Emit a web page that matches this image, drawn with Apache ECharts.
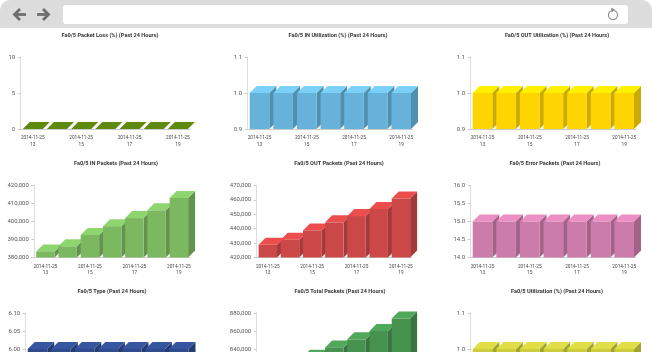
<!DOCTYPE html>
<html>
<head>
<meta charset="utf-8">
<script src="https://cdn.jsdelivr.net/npm/echarts@6/dist/echarts.min.js"></script>
<style>
html,body{margin:0;padding:0;background:#fff;overflow:hidden}
#container{width:652px;height:352px;filter:blur(0.3px)}
</style>
</head>
<body>
<div id="container"></div>
<script>
var categories = ['2014-11-25\n13','2014-11-25\n14','2014-11-25\n15','2014-11-25\n16','2014-11-25\n17','2014-11-25\n18','2014-11-25\n19'];

var titles = [
    'Fa0/5 Packet Loss (%) (Past 24 Hours)','Fa0/5 IN Utilization (%) (Past 24 Hours)','Fa0/5 OUT Utilization (%) (Past 24 Hours)',
    'Fa0/5 IN Packets (Past 24 Hours)','Fa0/5 OUT Packets (Past 24 Hours)','Fa0/5 Error Packets (Past 24 Hours)',
    'Fa0/5 Type (Past 24 Hours)','Fa0/5 Total Packets (Past 24 Hours)','Fa0/5 Utilization (%) (Past 24 Hours)'
];

var packetLoss = [0,0,0,0,0,0,0];
var inUtil = [1,1,1,1,1,1,1];
var outUtil = [1,1,1,1,1,1,1];
var inPackets = [383400,386200,392500,397400,401900,406200,413100];
var outPackets = [428800,432300,438800,444400,448800,453700,460900];
var errorPackets = [15,15,15,15,15,15,15];
var typeValues = [6,6,6,6,6,6,6];
var totalPackets = [812200,818500,831300,841800,850700,859900,874000];
var utilValues = [1,1,1,1,1,1,1];
var allSeries = [packetLoss,inUtil,outUtil,inPackets,outPackets,errorPackets,typeValues,totalPackets,utilValues];

// y axis: min, max, step, decimals
var yMin = [0,0.9,0.9,380000,420000,14,5.9,800000,0.9];
var yMax = [10,1.1,1.1,420000,470000,16,6.1,880000,1.1];
var yStep = [5,0.1,0.1,10000,10000,0.5,0.05,20000,0.1];
var yDecimals = [0,1,1,0,0,1,2,0,1];

// front, top, side
var frontColors = ['#5f8a10','#66b2da','#ffd500','#7cb860','#cc4848','#cc7caa','#2f4b8c','#47924f','#cccc3c'];
var topColors = ['#5f8a10','#7ad0f6','#fff000','#8fd56f','#ec4e4e','#ec8fc4','#37569f','#50a85b','#e0e046'];
var sideColors = ['#4c6e0d','#4f8fb0','#ccab00','#64934e','#a33a3a','#a36388','#253c70','#387540','#a3a330'];

var gridLeft = [20.7,247.7,470.7,34.3,256.7,470.7,25.7,256.7,470.7];
var gridRight = [190,413,636,190,412,636,190.5,412,636];
var gridTop = [57,57,57,185.5,185.5,185.5,313,313,313];
var gridHeight = 72;
var titleX = [110,338,557,116,339,555,112,340,557];
var titleY = [35,35,35,163,163,163,291,291,291];

var depth = 7;

function bar3d(idx){
    return function(params, api){
        var i = api.value(0);
        var top = api.coord([i, api.value(1)]);
        var base = api.coord([i, yMin[idx]]);
        var w = api.size([1,0])[0]*0.83;
        var l = top[0]-w/2, r = top[0]+w/2;
        return {type:'group', children:[
            {type:'polygon', shape:{points:[[r,top[1]],[r+depth,top[1]-depth],[r+depth,base[1]-depth],[r,base[1]]]}, style:{fill:sideColors[idx]}},
            {type:'polygon', shape:{points:[[l,top[1]],[l+depth,top[1]-depth],[r+depth,top[1]-depth],[r,top[1]]]}, style:{fill:topColors[idx]}},
            {type:'rect', shape:{x:l,y:top[1],width:w,height:base[1]-top[1]}, style:{fill:frontColors[idx]}}
        ]};
    };
}

var option = {title:[],grid:[],xAxis:[],yAxis:[],series:[],animation:false,
    graphic:{elements:[
        {type:'rect',shape:{x:0,y:0,width:652,height:28,r:[10,10,0,0]},style:{fill:'#dcdcdc'}},
        {type:'rect',shape:{x:63,y:5,width:565,height:19,r:3},style:{fill:'#ffffff'}},
        {type:'polyline',shape:{points:[[26,14.5],[14,14.5]]},style:{stroke:'#6e6e6e',lineWidth:2.8,fill:null}},
        {type:'polyline',shape:{points:[[20,9],[14.5,14.5],[20,20]]},style:{stroke:'#6e6e6e',lineWidth:2.8,fill:null}},
        {type:'polyline',shape:{points:[[37,14.5],[49,14.5]]},style:{stroke:'#6e6e6e',lineWidth:2.8,fill:null}},
        {type:'polyline',shape:{points:[[43,9],[48.5,14.5],[43,20]]},style:{stroke:'#6e6e6e',lineWidth:2.8,fill:null}},
        {type:'arc',shape:{cx:613,cy:15,r:4.6,startAngle:-1.2,endAngle:4.2},style:{stroke:'#8c8c8c',lineWidth:1.1,fill:null}},
        {type:'polygon',shape:{points:[[611,7.5],[615.5,10],[611.5,12.5]]},style:{fill:'#8c8c8c'}}
    ]}
};

for(var n=0;n<allSeries.length;n++){
    option.title.push({
        text:titles[n],left:titleX[n],top:titleY[n]-2,textAlign:'center',padding:0,
        textStyle:{fontFamily:'Roboto',fontSize:5.6,fontWeight:'bold',color:'#333'}
    });
    option.grid.push({left:gridLeft[n],width:gridRight[n]-gridLeft[n],top:gridTop[n],height:gridHeight,outerBoundsMode:'none'});
    option.xAxis.push({
        type:'category',gridIndex:n,data:categories,
        axisLine:{lineStyle:{color:'#ccc',width:1}},
        axisTick:{alignWithLabel:true,length:3,lineStyle:{color:'#ccc'},interval:1},
        axisLabel:{interval:1,fontFamily:'Roboto',fontSize:4.7,color:'#444',lineHeight:6.5,margin:6}
    });
    option.yAxis.push({
        type:'value',gridIndex:n,min:yMin[n],max:yMax[n],interval:yStep[n],
        splitLine:{show:false},
        axisLine:{show:true,lineStyle:{color:'#ddd',width:1}},
        axisTick:{show:true,length:3,lineStyle:{color:'#ccc'}},
        axisLabel:{fontFamily:'Roboto',fontSize:6,color:'#555',margin:5.5,
            formatter:(function(d){return function(v){
                return Number(v).toLocaleString('en-US',{minimumFractionDigits:d,maximumFractionDigits:d});
            };})(yDecimals[n])}
    });
    var rows = [];
    for(var i=0;i<allSeries[n].length;i++){
        rows.push([i,allSeries[n][i]]);
    }
    option.series.push({
        type:'custom',xAxisIndex:n,yAxisIndex:n,data:rows,
        encode:{x:0,y:1},renderItem:bar3d(n),clip:false
    });
}

var myChart = echarts.init(document.getElementById('container'),null,{renderer:'canvas'});
myChart.setOption(option);
</script>
</body>
</html>
